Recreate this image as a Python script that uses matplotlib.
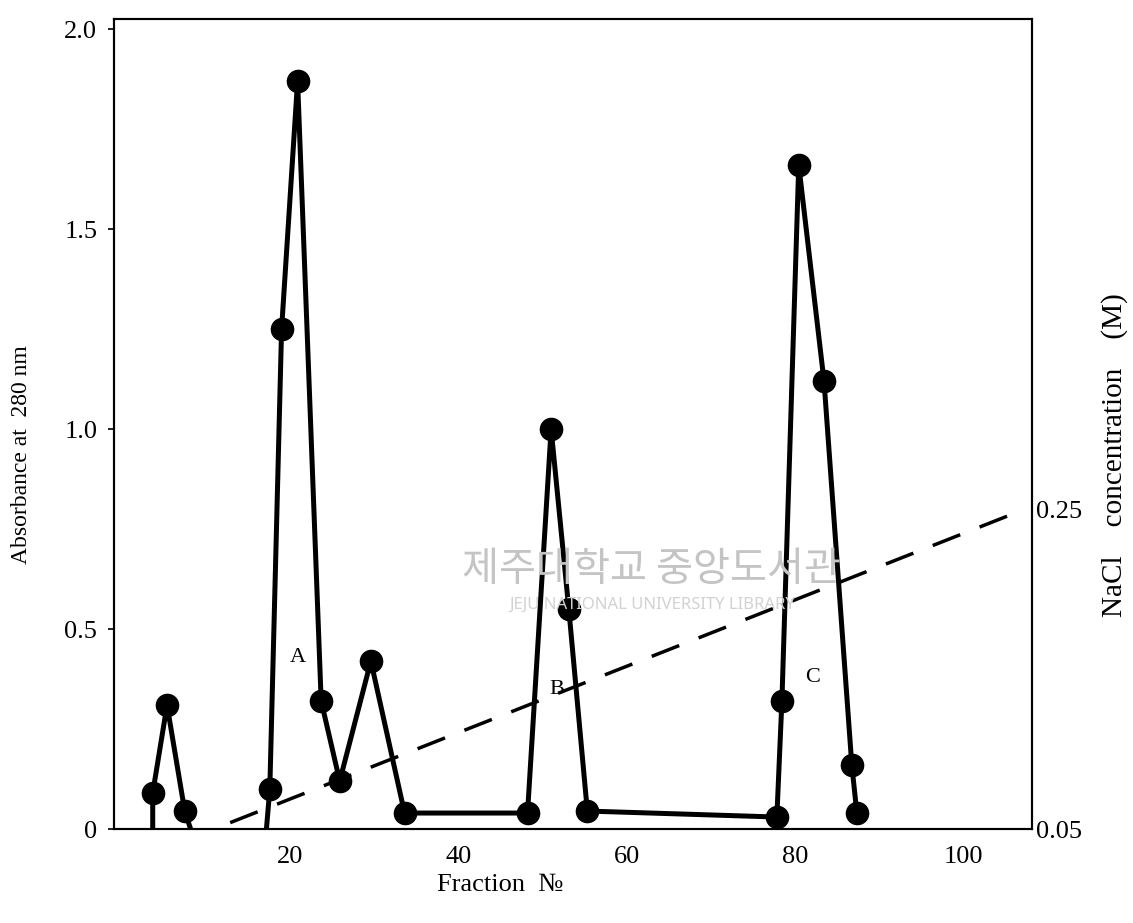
import numpy as np
import matplotlib
matplotlib.use("Agg")
import matplotlib.pyplot as plt

plt.rcParams['font.family'] = ['Liberation Serif', 'DejaVu Serif']

# Absorbance at 280 nm for the collected fractions
frac = [3.7, 5.4, 7.5, 17.6, 19.0, 20.9, 23.7, 25.9, 29.6, 33.6,
        48.2, 51.0, 53.1, 55.3, 77.8, 78.4, 80.4, 83.4, 86.7, 87.3]
a280 = [0.09, 0.31, 0.045, 0.10, 1.25, 1.87, 0.32, 0.12, 0.42, 0.04,
        0.04, 1.00, 0.55, 0.045, 0.03, 0.32, 1.66, 1.12, 0.16, 0.04]

# where the trace runs down to the baseline
base_before = 3.7
base_after = 8.2
base_resume = 17.2

# NaCl linear gradient (M)
nacl_frac = [12.9, 107.3]
nacl_conc = [0.054, 0.25]

# peak labels
peak_names = ['A', 'B', 'C']
peak_frac = [20.9, 51.7, 82.1]
peak_abs = [0.43, 0.35, 0.38]

xticks = [20, 40, 60, 80, 100]
yticks = [0, 0.5, 1.0, 1.5, 2.0]
ytick_labels = ['0', '0.5', '1.0', '1.5', '2.0']
rticks = [0.05, 0.25]
rtick_labels = ['0.05', '0.25']

# build the drawn trace: baseline ends + measured points, broken by a gap
line_x = [base_before] + frac[:3] + [base_after, np.nan, base_resume] + frac[3:]
line_y = [0] + a280[:3] + [0, np.nan, 0] + a280[3:]

fig = plt.figure(figsize=(11.33, 9.23), dpi=100)
ax = fig.add_axes([0.1006, 0.1018, 0.8103, 0.8776])

ax.plot(line_x, line_y, color='black', lw=3.6, solid_joinstyle='round', zorder=3)
ax.plot(frac, a280, 'o', color='black', ms=16, zorder=4)

for name, fx, fy in zip(peak_names, peak_frac, peak_abs):
    ax.text(fx, fy, name, fontsize=16, ha='center', va='center')

ax.set_xlim(-0.9, 108.1)
ax.set_ylim(0, 2.025)
ax.set_xticks(xticks)
ax.set_xticklabels([str(t) for t in xticks], fontsize=19)
ax.set_yticks(yticks)
ax.set_yticklabels(ytick_labels, fontsize=19)
ax.tick_params(axis='x', length=0, pad=12)
ax.tick_params(axis='y', length=4, width=1.2, direction='out', pad=8)
for sp in ax.spines.values():
    sp.set_linewidth(1.5)

ax2 = ax.twinx()
ax2.plot(nacl_frac, nacl_conc, color='black', lw=2.5, dashes=(8.5, 6))
ax2.set_ylim(0.05, 0.05 + 0.25 * 2.025)
ax2.set_yticks(rticks)
ax2.set_yticklabels(rtick_labels, fontsize=19)
ax2.tick_params(axis='y', length=0, pad=3)
for sp in ax2.spines.values():
    sp.set_linewidth(1.5)

fig.text(500 / 1133, 1 - 885 / 923, 'Fraction  №', fontsize=19,
         ha='center', va='center')
fig.text(22 / 1133, 1 - 455 / 923, 'Absorbance at  280 nm', fontsize=17,
         rotation=90, ha='center', va='center')
fig.text(1115 / 1133, 1 - 455 / 923, 'NaCl    concentration    (M)', fontsize=21,
         rotation=90, ha='center', va='center')

# library watermark
fig.text(652 / 1133, 1 - 570 / 923, '제주대학교 중앙도서관', fontsize=29,
         family=['Noto Sans CJK KR', 'DejaVu Sans'], color='#c4c4c4',
         ha='center', va='center', zorder=0)
fig.text(652 / 1133, 1 - 605 / 923, 'JEJU NATIONAL UNIVERSITY LIBRARY', fontsize=12,
         family=['Noto Sans', 'DejaVu Sans'], color='#d2d2d2',
         ha='center', va='center', zorder=0)

fig.savefig('out.png', dpi=100)
